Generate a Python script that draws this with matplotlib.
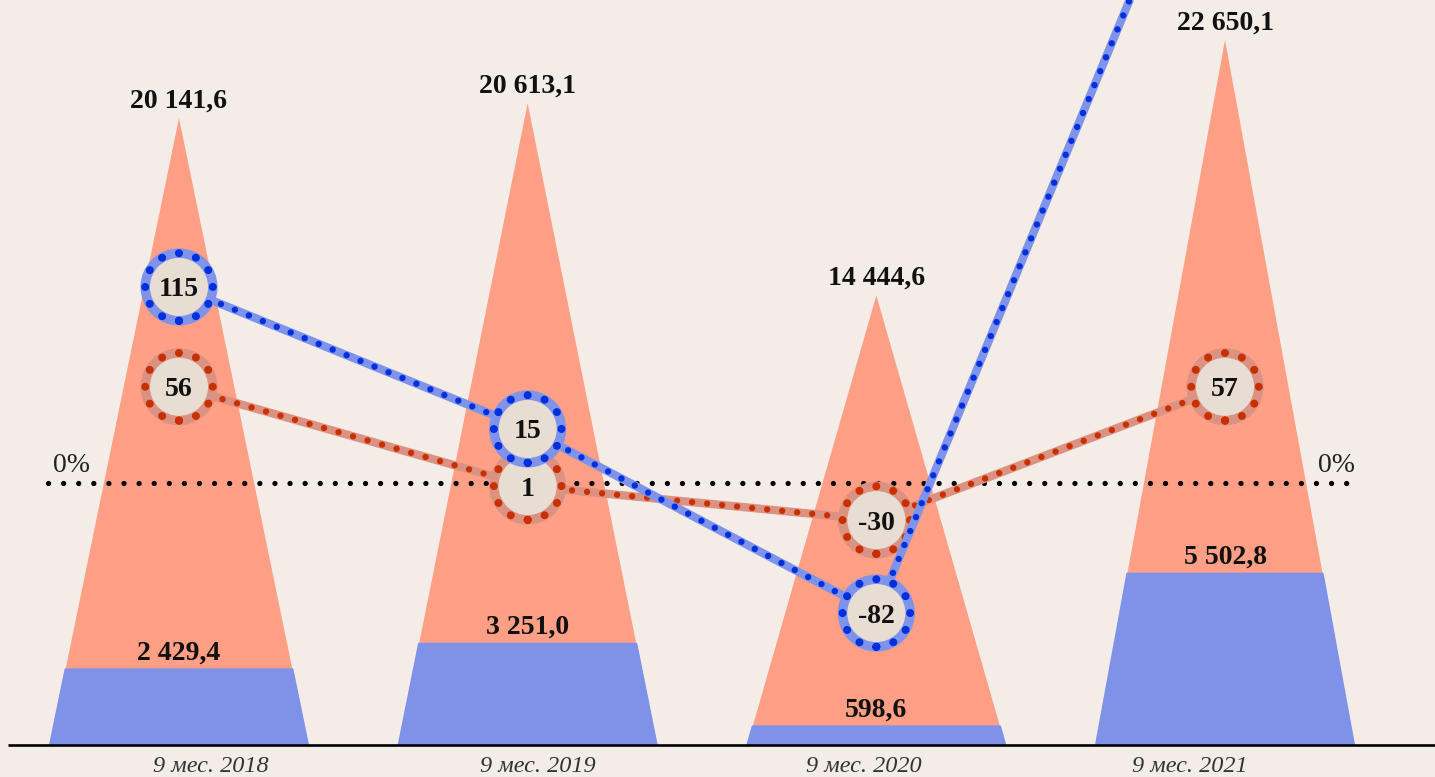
import matplotlib
matplotlib.use("Agg")
import math
import matplotlib.pyplot as plt
from matplotlib.patches import Polygon, Circle
from matplotlib.transforms import ScaledTranslation, blended_transform_factory

# ---------------- data ----------------
periods = ["9 мес. 2018", "9 мес. 2019", "9 мес. 2020", "9 мес. 2021"]
total_values = [20141.6, 20613.1, 14444.6, 22650.1]
blue_values = [2429.4, 3251.0, 598.6, 5502.8]
total_labels = ["20 141,6", "20 613,1", "14 444,6", "22 650,1"]
blue_labels = ["2 429,4", "3 251,0", "598,6", "5 502,8"]

# percentage change series: printed label and position (%)
red_pct_labels = ["56", "1", "-30", "57"]
red_pct_pos = [56.6, -1.5, -21.4, 56.6]
blue_pct_labels = ["115", "15", "-82", None]
blue_pct_pos = [115.0, 31.9, -75.8, 418.0]

# ---------------- style ----------------
BG = "#f4ede7"
SALMON = "#ff9f86"
BLUE_BAR = "#8092e8"
BEIGE = "#e8ddd2"
RED_LIGHT = "#dc9282"
RED_DOT = "#c93000"
BLUE_LIGHT = "#7f93ea"
BLUE_DOT = "#0030dc"
SERIF = ["Liberation Serif", "DejaVu Serif"]

W, H, DPI = 14.35, 7.77, 100
fig = plt.figure(figsize=(W, H), dpi=DPI, facecolor=BG)

# layout (pixels)
c0_px, step_px = 179.0, 348.67
base_px = 745.0
px_per_unit = 0.03113
half_w = 129.0 / step_px
zero_px = 483.5
px_per_pct = 1.709
FIG_W, FIG_H = W * DPI, H * DPI

ax = fig.add_axes([0, 0, 1, 1])
ax.set_xlim(-c0_px / step_px, (FIG_W - c0_px) / step_px)
ax.set_ylim(-(FIG_H - base_px) / px_per_unit, base_px / px_per_unit)
ax.axis("off")
ax.patch.set_alpha(0)

# triangles with blue base band
for i, (v, b) in enumerate(zip(total_values, blue_values)):
    tri = Polygon([(i - half_w, 0), (i, v), (i + half_w, 0)], closed=True,
                  facecolor=SALMON, edgecolor="none", zorder=1)
    ax.add_patch(tri)
    hw_b = half_w * (1 - b / v)
    band = Polygon([(i - half_w, 0), (i - hw_b, b), (i + hw_b, b), (i + half_w, 0)],
                   closed=True, facecolor=BLUE_BAR, edgecolor=BLUE_BAR,
                   linewidth=1.5, joinstyle="round", zorder=2)
    ax.add_patch(band)
    ax.annotate(total_labels[i], xy=(i, v), xytext=(0, 7.5), textcoords="offset points",
                ha="center", va="baseline", fontsize=20, fontweight="bold",
                family=SERIF, color="#111111", zorder=5)
    ax.annotate(blue_labels[i], xy=(i, b), xytext=(0, 7), textcoords="offset points",
                ha="center", va="baseline", fontsize=20, fontweight="bold",
                family=SERIF, color="#111111", zorder=5)

# baseline
ax.plot([(8 - c0_px) / step_px, (FIG_W - c0_px) / step_px], [0, 0],
        color="black", lw=1.9, solid_capstyle="butt", zorder=3)

# percentage axes overlay
axp = fig.add_axes([0, 0, 1, 1], sharex=ax)
axp.set_ylim(-(FIG_H - zero_px) / px_per_pct, zero_px / px_per_pct)
axp.axis("off")
axp.patch.set_alpha(0)

# zero line
x_l = (48 - c0_px) / step_px
x_r = (1357 - c0_px) / step_px
axp.plot([x_l, x_r], [0, 0], color="black", lw=3.8,
         linestyle=(0, (0.01, 2.85)), dash_capstyle="round", zorder=3)
axp.annotate("0%", xy=(x_l, 0), xytext=(3.5, 8.5), textcoords="offset points",
             ha="left", va="baseline", fontsize=20, family=SERIF, color="#222222")
axp.annotate("0%", xy=(x_r, 0), xytext=(-1.5, 8.5), textcoords="offset points",
             ha="right", va="baseline", fontsize=20, family=SERIF, color="#222222")

ring_r_in = 0.338
dot_lw_px = 8.0
n_dots = 12
ring_gap = (2 * math.pi * ring_r_in * DPI) / n_dots / dot_lw_px


def draw_series(pos, labels, light, dark, z):
    xs = list(range(len(pos)))
    axp.plot(xs, pos, color=light, lw=6.0, solid_capstyle="butt", zorder=z)
    axp.plot(xs, pos, color=dark, lw=4.6, linestyle=(0, (0.01, 2.35)),
             dash_capstyle="round", zorder=z + 0.1)
    for i, (p, lab) in enumerate(zip(pos, labels)):
        if lab is None:
            continue
        tr = fig.dpi_scale_trans + ScaledTranslation(i, p, axp.transData)
        c1 = Circle((0, 0), ring_r_in, transform=tr, facecolor=BEIGE,
                    edgecolor=light, linewidth=6.8, zorder=z + 0.2)
        axp.add_artist(c1)
        c2 = Circle((0, 0), ring_r_in, transform=tr, facecolor="none",
                    edgecolor=dark, linewidth=dot_lw_px * 0.72,
                    linestyle=(0, (0.01, ring_gap - 0.01)), capstyle="round",
                    zorder=z + 0.3)
        axp.add_artist(c2)
        axp.text(i, p, lab, ha="center", va="center_baseline", fontsize=20,
                 fontweight="bold", family=SERIF, color="#111111", zorder=z + 0.4)


draw_series(red_pct_pos, red_pct_labels, RED_LIGHT, RED_DOT, 6)
draw_series(blue_pct_pos, blue_pct_labels, BLUE_LIGHT, BLUE_DOT, 8)

# period labels on an evenly banded scale
axx = fig.add_axes([48 / FIG_W, 0, (1353 - 48) / FIG_W, 1])
axx.set_xlim(0, len(periods))
axx.axis("off")
axx.patch.set_alpha(0)
tr = blended_transform_factory(axx.transData, fig.transFigure)
for i, lab in enumerate(periods):
    axx.text(i + 0.5, 5.0 / FIG_H, lab, transform=tr, ha="center", va="baseline",
             fontsize=17.5, style="italic", family=SERIF, color="#333333")

fig.savefig("out.png", dpi=DPI, facecolor=BG)
